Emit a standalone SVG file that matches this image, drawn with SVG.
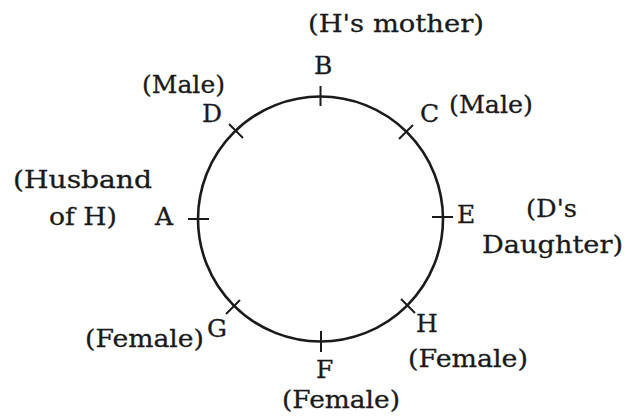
<svg xmlns="http://www.w3.org/2000/svg" width="629" height="418" viewBox="0 0 629 418">
  <style>
    text { font-family: "DejaVu Serif", "Liberation Serif", serif; font-size: 25px; fill: #1a1a1a; stroke: #1a1a1a; stroke-width: 0.3; }
    .ring { fill: none; stroke: #1a1a1a; stroke-width: 2.6; }
    .tick { stroke: #1a1a1a; stroke-width: 2; }
  </style>
  <rect width="629" height="418" fill="#ffffff"/>
  <g id="connectors">
    <circle class="ring" cx="320.5" cy="219" r="122.5"/>
  </g>
  <g id="node-B">
    <line class="tick" x1="320.5" y1="86" x2="320.5" y2="106"/>
    <text x="314" y="74">B</text>
    <text x="308" y="32" textLength="176" lengthAdjust="spacingAndGlyphs">(H's mother)</text>
  </g>
  <g id="node-D">
    <line class="tick" x1="229" y1="124" x2="243" y2="138"/>
    <text x="202" y="122">D</text>
    <text x="142" y="93" textLength="83" lengthAdjust="spacingAndGlyphs">(Male)</text>
  </g>
  <g id="node-C">
    <line class="tick" x1="413" y1="125" x2="399" y2="139"/>
    <text x="420" y="122">C</text>
    <text x="449" y="113" textLength="84" lengthAdjust="spacingAndGlyphs">(Male)</text>
  </g>
  <g id="node-A">
    <line class="tick" x1="188" y1="219" x2="209" y2="219"/>
    <text x="155" y="225">A</text>
    <text x="13" y="188" textLength="139" lengthAdjust="spacingAndGlyphs">(Husband</text>
    <text x="49" y="225" textLength="68" lengthAdjust="spacingAndGlyphs">of H)</text>
  </g>
  <g id="node-E">
    <line class="tick" x1="432" y1="217" x2="453" y2="217"/>
    <text x="457" y="223">E</text>
    <text x="526" y="217" textLength="51" lengthAdjust="spacingAndGlyphs">(D's</text>
    <text x="482" y="253" textLength="141" lengthAdjust="spacingAndGlyphs">Daughter)</text>
  </g>
  <g id="node-G">
    <line class="tick" x1="226" y1="314" x2="240" y2="300"/>
    <text x="207" y="337">G</text>
    <text x="85" y="347" textLength="119" lengthAdjust="spacingAndGlyphs">(Female)</text>
  </g>
  <g id="node-H">
    <line class="tick" x1="401" y1="299" x2="415" y2="313"/>
    <text x="416" y="332">H</text>
    <text x="408" y="367" textLength="120" lengthAdjust="spacingAndGlyphs">(Female)</text>
  </g>
  <g id="node-F">
    <line class="tick" x1="321" y1="331" x2="321" y2="352"/>
    <text x="316" y="378">F</text>
    <text x="282" y="408" textLength="118" lengthAdjust="spacingAndGlyphs">(Female)</text>
  </g>
</svg>
